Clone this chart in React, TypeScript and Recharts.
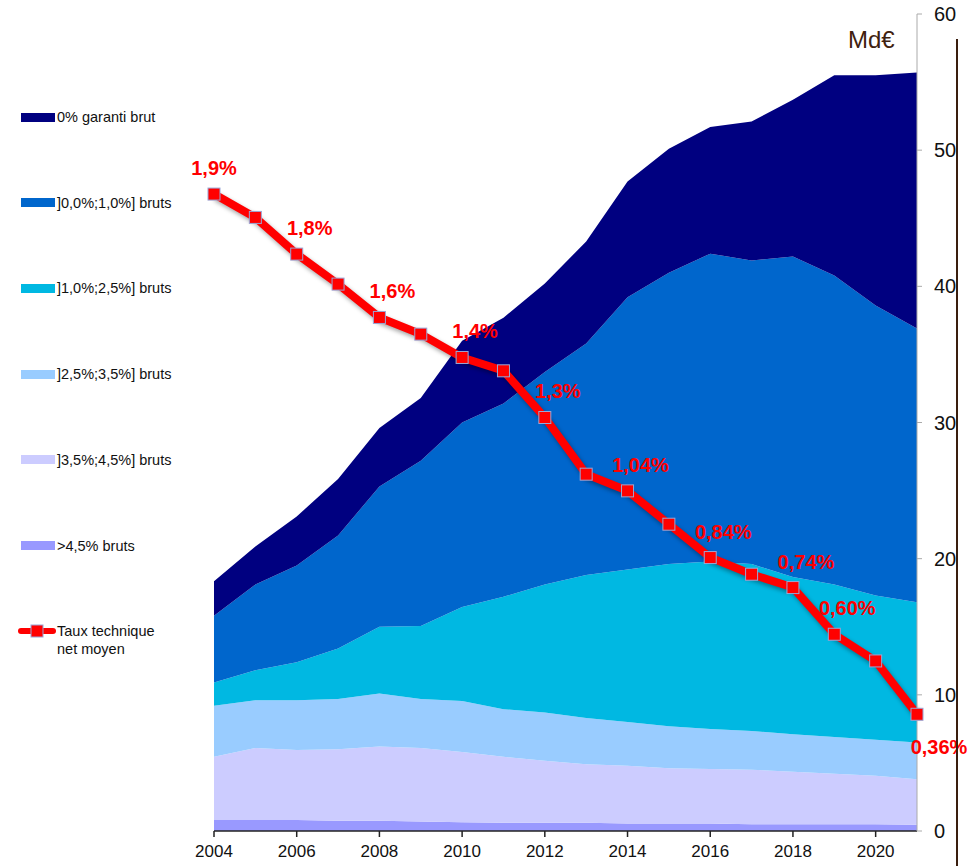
import React from "react";
import {
  ComposedChart,
  Area,
  Line,
  XAxis,
  YAxis,
  LabelList,
} from "recharts";

const years = [2004, 2005, 2006, 2007, 2008, 2009, 2010, 2011, 2012, 2013, 2014, 2015, 2016, 2017, 2018, 2019, 2020, 2021];

// Md€ per band of guaranteed rate (stacked bottom to top)
const over45 = [0.8, 0.8, 0.8, 0.75, 0.75, 0.7, 0.65, 0.6, 0.6, 0.6, 0.55, 0.55, 0.55, 0.5, 0.5, 0.5, 0.5, 0.45];
const from35to45 = [4.65, 5.3, 5.15, 5.25, 5.45, 5.4, 5.15, 4.85, 4.55, 4.3, 4.25, 4.05, 4.0, 4.0, 3.85, 3.7, 3.55, 3.35];
const from25to35 = [3.75, 3.5, 3.65, 3.7, 3.9, 3.6, 3.75, 3.5, 3.55, 3.4, 3.2, 3.1, 2.95, 2.85, 2.75, 2.7, 2.65, 2.7];
const from10to25 = [1.7, 2.2, 2.8, 3.7, 4.9, 5.35, 6.9, 8.25, 9.4, 10.5, 11.2, 11.9, 12.3, 12.25, 11.55, 11.2, 10.6, 10.3];
const from0to10 = [4.9, 6.3, 7.1, 8.3, 10.3, 12.15, 13.55, 14.2, 15.6, 17.0, 20.0, 21.4, 22.6, 22.3, 23.55, 22.7, 21.3, 20.1];
const garanti0 = [2.55, 2.8, 3.6, 4.15, 4.3, 4.6, 6.0, 6.3, 6.5, 7.5, 8.5, 9.1, 9.3, 10.2, 11.5, 14.7, 16.9, 18.8];

// taux technique net moyen, in %
const rate = [1.91, 1.84, 1.73, 1.64, 1.54, 1.49, 1.42, 1.38, 1.24, 1.07, 1.02, 0.92, 0.82, 0.77, 0.73, 0.59, 0.51, 0.35];
const rateLabels = ["1,9%", "", "1,8%", "", "1,6%", "", "1,4%", "", "1,3%", "", "1,04%", "", "0,84%", "", "0,74%", "0,60%", "", "0,36%"];

const xTicks = [2004, 2006, 2008, 2010, 2012, 2014, 2016, 2018, 2020];
const yTicks = [0, 10, 20, 30, 40, 50, 60];

const bands = [
  { key: "over45", name: ">4,5% bruts", values: over45, color: "#9999FF" },
  { key: "from35to45", name: "]3,5%;4,5%] bruts", values: from35to45, color: "#CCCCFF" },
  { key: "from25to35", name: "]2,5%;3,5%] bruts", values: from25to35, color: "#99CCFF" },
  { key: "from10to25", name: "]1,0%;2,5%] bruts", values: from10to25, color: "#00B8E2" },
  { key: "from0to10", name: "]0,0%;1,0%] bruts", values: from0to10, color: "#0066CC" },
  { key: "garanti0", name: "0% garanti brut", values: garanti0, color: "#000080" },
];

const data = years.map((year, i) => {
  const row: Record<string, number | string> = { year, rate: rate[i], label: rateLabels[i] };
  bands.forEach((b) => {
    row[b.key] = b.values[i];
  });
  return row;
});

const FONT = "'Liberation Sans', Arial, sans-serif";

const RateLabel = (props: any) => {
  const { x, y, index } = props;
  const text = rateLabels[index];
  if (!text) return null;
  const last = index === rateLabels.length - 1;
  const dx = index === 0 ? 0 : last ? 22 : 13;
  const dy = last ? 33 : -26;
  return (
    <text
      x={x + dx}
      y={y + dy}
      textAnchor="middle"
      dominantBaseline="central"
      fill="#FF0000"
      fontSize={20}
      fontWeight="bold"
      fontFamily={FONT}
    >
      {text}
    </text>
  );
};

const SquareDot = (props: any) => {
  const { cx, cy, index } = props;
  if (cx == null || cy == null) return null;
  return (
    <rect key={index} x={cx - 6} y={cy - 6} width={12} height={12} fill="#FF0000" stroke="#9aa6d6" strokeWidth={1} />
  );
};

const Legend = () => {
  const items = [...bands].reverse();
  return (
    <div style={{ position: "absolute", left: 0, top: 0, fontFamily: FONT, fontSize: 14.5, color: "#111" }}>
      {items.map((b, i) => (
        <div key={b.key} style={{ position: "absolute", left: 21, top: 117 + i * 85.7 - 9, height: 18, display: "flex", alignItems: "center", whiteSpace: "nowrap" }}>
          <span style={{ display: "inline-block", width: 34, height: 9, background: b.color, marginRight: 2 }} />
          {b.name}
        </div>
      ))}
      <div style={{ position: "absolute", left: 17, top: 622, whiteSpace: "nowrap", lineHeight: "18px" }}>
        <svg width={40} height={18} style={{ position: "absolute", left: 0, top: 0 }}>
          <line x1={4} y1={9} x2={36} y2={9} stroke="#FF0000" strokeWidth={6} strokeLinecap="round" />
          <rect x={14} y={3} width={12} height={12} fill="#FF0000" stroke="#9aa6d6" strokeWidth={1} />
        </svg>
        <div style={{ marginLeft: 40 }}>
          Taux technique
          <br />
          net moyen
        </div>
      </div>
    </div>
  );
};

export default function App() {
  return (
    <div style={{ position: "absolute", left: 0, top: 0, width: 970, height: 866, background: "#fff", overflow: "hidden" }}>
      <style>{`.rate-line { filter: drop-shadow(2px 3px 2px rgba(0,0,0,0.35)); }`}</style>
      <ComposedChart
        width={970}
        height={866}
        data={data}
        margin={{ top: 14, right: 0, left: 214, bottom: 5 }}
      >
        <XAxis
          dataKey="year"
          type="number"
          domain={[2004, 2021]}
          ticks={xTicks}
          interval={0}
          height={30}
          tickSize={6}
          tickMargin={8}
          axisLine={{ stroke: "#222", strokeWidth: 1.5 }}
          tickLine={{ stroke: "#222", strokeWidth: 1.5 }}
          tick={{ fontSize: 17, fill: "#111", fontFamily: FONT }}
        />
        <YAxis
          yAxisId="md"
          orientation="right"
          domain={[0, 60]}
          ticks={yTicks}
          width={53}
          tickSize={5}
          tickMargin={12}
          axisLine={{ stroke: "#aaa" }}
          tickLine={{ stroke: "#aaa" }}
          tick={{ fontSize: 20, fill: "#111", fontFamily: FONT, textAnchor: "start" }}
        />
        <YAxis yAxisId="rate" orientation="right" domain={[0, 2.45]} hide />
        {bands.map((b) => (
          <Area
            key={b.key}
            yAxisId="md"
            type="linear"
            dataKey={b.key}
            name={b.name}
            stackId="md"
            stroke="none"
            fill={b.color}
            fillOpacity={1}
            isAnimationActive={false}
          />
        ))}
        <Line
          yAxisId="rate"
          type="linear"
          dataKey="rate"
          name="Taux technique net moyen"
          stroke="#FF0000"
          strokeWidth={8}
          className="rate-line"
          dot={<SquareDot />}
          activeDot={false}
          isAnimationActive={false}
        >
          <LabelList dataKey="label" content={<RateLabel />} />
        </Line>
      </ComposedChart>
      <Legend />
      <div style={{ position: "absolute", left: 848, top: 26, fontFamily: FONT, fontSize: 24, color: "#40220f" }}>Md€</div>
      <div style={{ position: "absolute", left: 956, top: 39, width: 2, height: 827, background: "#3a1e0e" }} />
    </div>
  );
}
